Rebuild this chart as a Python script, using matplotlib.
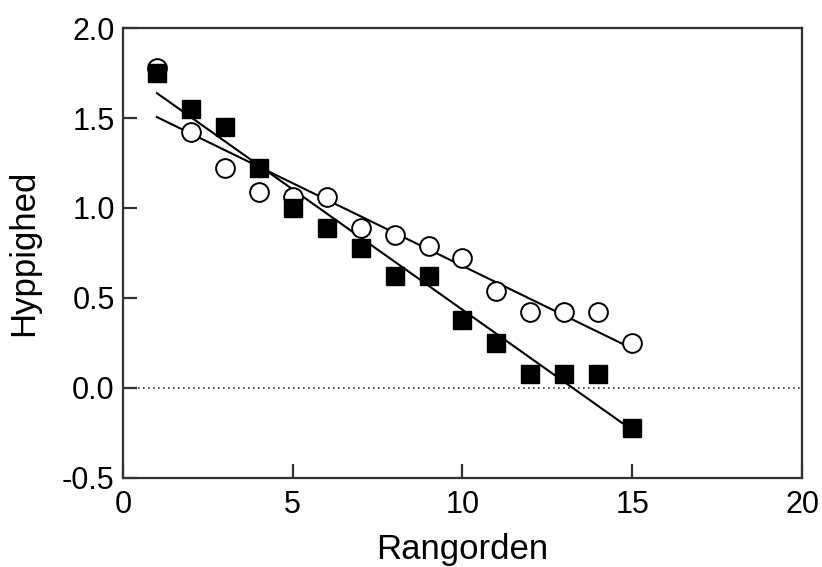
import numpy as np
import matplotlib
matplotlib.use("Agg")
import matplotlib.pyplot as plt

plt.rcParams['font.family'] = ['Liberation Sans', 'DejaVu Sans']

rank = [1, 2, 3, 4, 5, 6, 7, 8, 9, 10, 11, 12, 13, 14, 15]
squares = [1.75, 1.55, 1.45, 1.22, 1.00, 0.89, 0.78, 0.62, 0.62, 0.38, 0.25, 0.08, 0.08, 0.08, -0.22]
circles = [1.78, 1.42, 1.22, 1.09, 1.06, 1.06, 0.89, 0.85, 0.79, 0.72, 0.54, 0.42, 0.42, 0.42, 0.25]

xticks = [0, 5, 10, 15, 20]
yticks = [-0.5, 0.0, 0.5, 1.0, 1.5, 2.0]
yticklabels = ['-0.5', '0.0', '0.5', '1.0', '1.5', '2.0']

fig = plt.figure(figsize=(8.22, 5.67), dpi=100)
ax = fig.add_axes([0.1496, 0.157, 0.8261, 0.7936])

x = np.array(rank, dtype=float)
ax.axhline(0, color='#333333', linestyle=(0, (1, 2)), linewidth=1.2, zorder=1)

for ys in (squares, circles):
    p = np.polyfit(x, ys, 1)
    xx = np.array([x.min(), x.max()])
    ax.plot(xx, np.polyval(p, xx), color='black', linewidth=1.5, zorder=2)

ax.plot(x, circles, linestyle='none', marker='o', markersize=13.5,
        markerfacecolor='white', markeredgecolor='black', markeredgewidth=1.4, zorder=3)
ax.plot(x, squares, linestyle='none', marker='s', markersize=13,
        markerfacecolor='black', markeredgecolor='black', zorder=4)

ax.set_xlim(0, 20)
ax.set_ylim(-0.5, 2.0)
ax.set_xticks(xticks)
ax.set_yticks(yticks)
ax.set_yticklabels(yticklabels)

for s in ax.spines.values():
    s.set_linewidth(1.6)
    s.set_color('#333333')

ax.tick_params(axis='x', direction='in', length=10, width=1.6, color='#333333', labelsize=22, pad=9)
ax.tick_params(axis='y', direction='in', length=10, width=1.6, color='#333333', labelsize=22, pad=6)

ax.set_xlabel('Rangorden', fontsize=25, labelpad=9)
ax.set_ylabel('Hyppighed', fontsize=25, labelpad=16)

fig.savefig('out.png', dpi=100)
